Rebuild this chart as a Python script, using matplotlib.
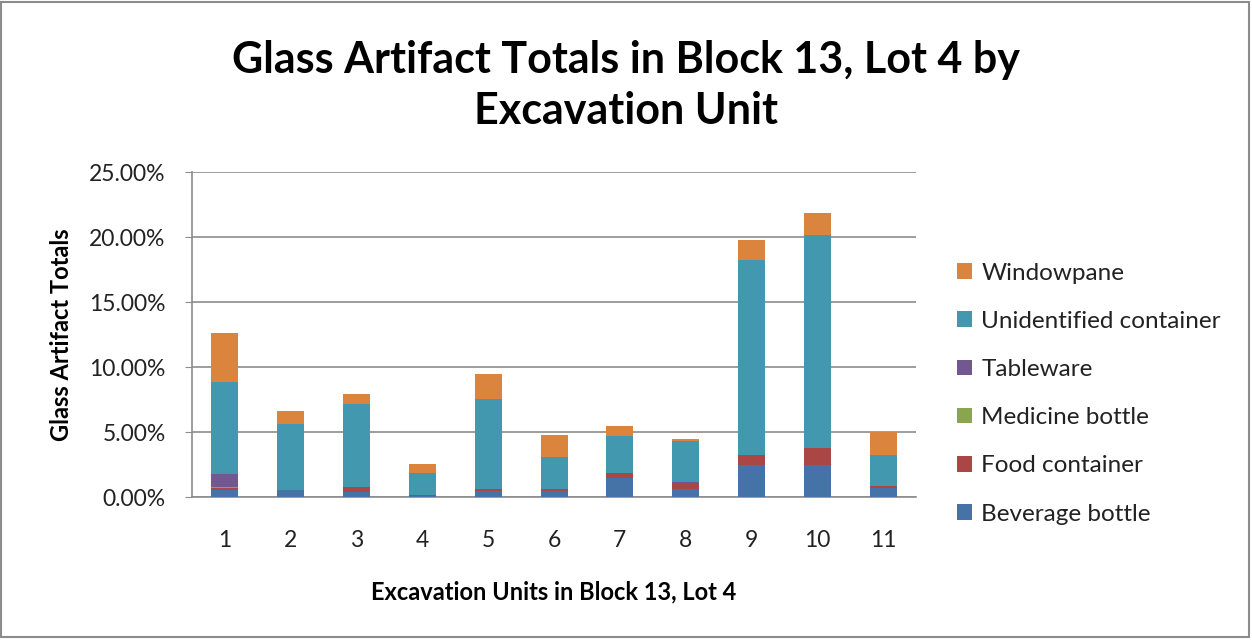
import numpy as np
import matplotlib.pyplot as plt
from matplotlib.patches import Rectangle
from matplotlib.ticker import FuncFormatter

plt.rcParams['font.family'] = ['Lato', 'DejaVu Sans']

units = ['1', '2', '3', '4', '5', '6', '7', '8', '9', '10', '11']

# percentages per excavation unit, stacked bottom to top
beverage_bottle = [0.55, 0.55, 0.40, 0.05, 0.45, 0.45, 1.50, 0.60, 2.50, 2.50, 0.70]
food_container = [0.15, 0.00, 0.35, 0.10, 0.20, 0.20, 0.35, 0.45, 0.70, 1.30, 0.15]
medicine_bottle = [0.10, 0.00, 0.00, 0.00, 0.00, 0.00, 0.00, 0.00, 0.00, 0.00, 0.00]
tableware = [0.95, 0.00, 0.00, 0.00, 0.00, 0.00, 0.00, 0.10, 0.00, 0.00, 0.02]
unidentified = [7.10, 5.10, 6.40, 1.67, 6.90, 2.45, 2.85, 3.15, 15.00, 16.35, 2.40]
windowpane = [3.75, 1.00, 0.80, 0.72, 1.95, 1.70, 0.80, 0.20, 1.55, 1.70, 1.75]

series = [
    ('Beverage bottle', beverage_bottle, '#4572A7'),
    ('Food container', food_container, '#AA4643'),
    ('Medicine bottle', medicine_bottle, '#89A54E'),
    ('Tableware', tableware, '#71588F'),
    ('Unidentified container', unidentified, '#4198AF'),
    ('Windowpane', windowpane, '#DB843D'),
]

fig = plt.figure(figsize=(12.52, 6.4), dpi=100)
ax = fig.add_axes([0.1534, 0.2234, 0.5782, 0.5078])

x = np.arange(len(units))
bottom = np.zeros(len(units))
handles = []
for name, vals, color in series:
    b = ax.bar(x, vals, width=0.41, bottom=bottom, color=color, label=name,
               edgecolor='none', zorder=3)
    handles.append(b)
    bottom += np.array(vals)

ax.set_xlim(-0.5, len(units) - 0.5)
ax.set_ylim(0, 25)
ax.set_yticks(np.arange(0, 26, 5))
ax.yaxis.set_major_formatter(FuncFormatter(lambda v, p: f'{v:.2f}%'))
ax.set_xticks(x)
ax.set_xticklabels(units)
ax.grid(axis='y', color='#8c8c8c', linewidth=1.2, zorder=0)
ax.set_axisbelow(True)

for s in ['top', 'right']:
    ax.spines[s].set_visible(False)
for s in ['left', 'bottom']:
    ax.spines[s].set_color('#8c8c8c')
    ax.spines[s].set_linewidth(1.2)

ax.tick_params(axis='y', length=5, color='#8c8c8c', labelsize=16.5, pad=14,
               labelcolor='#222222')
ax.tick_params(axis='x', length=0, labelsize=16.5, pad=24, labelcolor='#222222')

ax.set_xlabel('Excavation Units in Block 13, Lot 4', fontsize=17,
              fontweight='bold', labelpad=21)
ax.set_ylabel('Glass Artifact Totals', fontsize=17, fontweight='bold', labelpad=12)

fig.text(0.5, 0.937, 'Glass Artifact Totals in Block 13, Lot 4 by\nExcavation Unit',
         ha='center', va='top', fontsize=31, fontweight='bold', linespacing=1.32)

leg = fig.legend(handles[::-1], [s[0] for s in series][::-1],
                 loc='center left', bbox_to_anchor=(0.747, 0.385),
                 frameon=False, fontsize=17.5, handlelength=0.6,
                 handleheight=0.6, handletextpad=0.4, labelspacing=1.12)
for t in leg.get_texts():
    t.set_color('#222222')

fig.patches.append(Rectangle((0.001, 0.004), 0.997, 0.993, transform=fig.transFigure,
                             fill=False, edgecolor='#8c8c8c', linewidth=1.5))

fig.savefig('out.png', dpi=100)
